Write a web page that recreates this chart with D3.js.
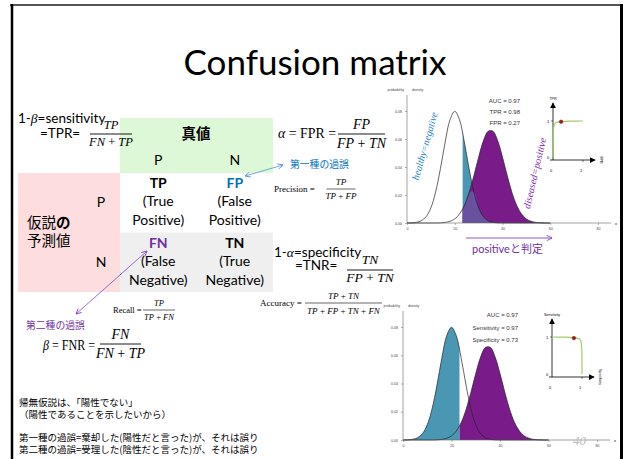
<!DOCTYPE html>
<html>
<head>
<meta charset="utf-8">
<script src="https://cdn.jsdelivr.net/npm/d3@7"></script>
<style>
  body { margin: 0; background: #fff; }
  svg { display: block; }
  text { white-space: pre; }
</style>
</head>
<body>
<script>
const width = 625, height = 459

// densidades (x = 0..60, cada 2)
const xGrid = [0, 2, 4, 6, 8, 10, 12, 14, 16, 18, 20, 22, 24, 26, 28, 30, 32, 34, 36, 38, 40, 42, 44, 46, 48, 50, 52, 54, 56, 58, 60]
const healthy = [0, 0.0001, 0.0005, 0.0016, 0.0045, 0.0108, 0.0222, 0.0388, 0.0579, 0.0737, 0.0798, 0.0737, 0.0579, 0.0388, 0.0222, 0.0108, 0.0045, 0.0016, 0.0005, 0.0001, 0, 0, 0, 0, 0, 0, 0, 0, 0, 0, 0]
const diseased = [0, 0, 0, 0, 0, 0, 0, 0.0001, 0.0004, 0.0012, 0.0029, 0.0064, 0.0124, 0.0216, 0.0337, 0.0470, 0.0587, 0.0656, 0.0656, 0.0587, 0.0470, 0.0337, 0.0216, 0.0124, 0.0064, 0.0029, 0.0012, 0.0004, 0.0001, 0, 0]
const threshold = 23.3

const xTicks = [0, 20, 40, 60, 80]
const yTicks = [0, 0.02, 0.04, 0.06, 0.08]

// curva ROC
const rocFpr = [0, 0, 0.01, 0.03, 0.07, 0.12, 0.2, 0.27, 0.4, 0.6, 0.8, 1]
const rocTpr = [0, 0.5, 0.75, 0.88, 0.94, 0.965, 0.975, 0.98, 0.99, 0.995, 1, 1]
const topPoint = [0.27, 0.98]
const botPoint = [0.73, 0.97]
const topStats = ["AUC = 0.97", "TPR = 0.98", "FPR = 0.27"]
const botStats = ["AUC = 0.97", "Sensitivity = 0.97", "Specificity = 0.73"]

// matriz
const classes = ["P", "N"]
const cellCodes = [["TP", "FP"], ["FN", "TN"]]
const cellWords = [[["(True", "Positive)"], ["(False", "Positive)"]], [["(False", "Negative)"], ["(True", "Negative)"]]]
const notes = ["帰無仮説は、「陽性でない」", "（陽性であることを示したいから）", "", "第一種の過誤=棄却した(陽性だと言った)が、それは誤り", "第二種の過誤=受理した(陰性だと言った)が、それは誤り"]

const sans = "Lato, 'Noto Sans CJK JP', sans-serif"
const jp = "'Noto Sans CJK JP', sans-serif"
const serif = "'Liberation Serif', 'DejaVu Serif', serif"
const small = "'Liberation Sans', Arial, sans-serif"

const BLUE = "#0070c0", PURPLE = "#7030a0"
const TEAL = "rgb(74,151,179)", VIOLET = "rgb(122,27,138)", MIX = "rgb(104,82,160)"

let svg = d3.select("body").append("svg").attr("width", width).attr("height", height)

let defs = svg.append("defs")
function openArrow(id, color) {
  defs.append("marker").attr("id", id).attr("viewBox", "0 0 8 8").attr("refX", 7).attr("refY", 4)
    .attr("markerWidth", 7).attr("markerHeight", 7).attr("orient", "auto-start-reverse")
    .attr("markerUnits", "userSpaceOnUse")
    .append("path").attr("d", "M1,1 L7,4 L1,7").attr("fill", "none").attr("stroke", color).attr("stroke-width", 1)
}
openArrow("arBlue", "rgb(80,150,220)")
openArrow("arPurple", "rgb(130,70,200)")
defs.append("marker").attr("id", "arBlack").attr("viewBox", "0 0 8 8").attr("refX", 7).attr("refY", 4)
  .attr("markerWidth", 6).attr("markerHeight", 6).attr("orient", "auto").attr("markerUnits", "userSpaceOnUse")
  .append("path").attr("d", "M0,0 L8,4 L0,8 Z").attr("fill", "#000")

// marco de la diapositiva
svg.append("line").attr("x1", 10).attr("x2", 622).attr("y1", 5).attr("y2", 5).attr("stroke", "#555").attr("stroke-width", 2)
svg.append("line").attr("x1", 12).attr("x2", 12).attr("y1", 4).attr("y2", height).attr("stroke", "#000").attr("stroke-width", 2.5)
svg.append("line").attr("x1", 621.5).attr("x2", 621.5).attr("y1", 4).attr("y2", height).attr("stroke", "#000").attr("stroke-width", 3)

svg.append("text").attr("x", 315).attr("y", 75).attr("text-anchor", "middle")
  .attr("font-family", sans).attr("font-size", 35).text("Confusion matrix")

// ---------- matriz de confusion ----------
let colX = d3.scaleBand().domain(classes).range([120, 273])
let rowY = d3.scaleBand().domain(classes).range([173, 292])

svg.append("rect").attr("x", 120).attr("y", 118).attr("width", 153).attr("height", 55).attr("fill", "rgb(221,248,214)")
svg.append("rect").attr("x", 18).attr("y", 173).attr("width", 102).attr("height", 119).attr("fill", "rgb(253,221,221)")
svg.append("rect").attr("x", 120).attr("y", rowY("N")).attr("width", 153).attr("height", rowY.bandwidth()).attr("fill", "#efefef")

svg.append("text").attr("x", 196).attr("y", 139).attr("text-anchor", "middle")
  .attr("font-family", jp).attr("font-weight", "bold").attr("font-size", 14.5).text("真値")

classes.forEach(function (c) {
  svg.append("text").attr("x", colX(c) + colX.bandwidth() / 2).attr("y", 165).attr("text-anchor", "middle")
    .attr("font-family", sans).attr("font-size", 14).text(c)
  svg.append("text").attr("x", 101).attr("y", rowY(c) + rowY.bandwidth() / 2 + 4.5).attr("text-anchor", "middle")
    .attr("font-family", sans).attr("font-size", 14).text(c)
})

let codeColor = { TP: "#000", FP: BLUE, FN: PURPLE, TN: "#000" }
classes.forEach(function (r, i) {
  classes.forEach(function (c, j) {
    let cx = colX(c) + colX.bandwidth() / 2
    let cy = rowY(r) + rowY.bandwidth() / 2
    svg.append("text").attr("x", cx).attr("y", cy - 14.5).attr("text-anchor", "middle")
      .attr("font-family", sans).attr("font-weight", "bold").attr("font-size", 14)
      .attr("fill", codeColor[cellCodes[i][j]]).text(cellCodes[i][j])
    cellWords[i][j].forEach(function (w, k) {
      svg.append("text").attr("x", cx).attr("y", cy + 3.5 + k * 19).attr("text-anchor", "middle")
        .attr("font-family", sans).attr("font-size", 14).text(w)
    })
  })
})

svg.append("text").attr("x", 27).attr("y", 228).attr("font-family", jp).attr("font-size", 14.5).text("仮説")
svg.append("text").attr("x", 56).attr("y", 228).attr("font-family", jp).attr("font-weight", "bold").attr("font-size", 14.5).text("の")
svg.append("text").attr("x", 27).attr("y", 246).attr("font-family", jp).attr("font-size", 14.5).text("予測値")

// ---------- formulas ----------
function mathTokens(t, str) {
  str.split(" + ").forEach(function (tok, i) {
    if (i > 0) t.append("tspan").attr("font-style", "normal").text(" + ")
    t.append("tspan").attr("font-style", "italic").text(tok)
  })
}

function frac(cx, barY, w, num, den, size, numDy, denDy) {
  svg.append("line").attr("x1", cx - w / 2).attr("x2", cx + w / 2).attr("y1", barY).attr("y2", barY)
    .attr("stroke", "#000").attr("stroke-width", size > 11 ? 0.9 : 0.6)
  let n = svg.append("text").attr("x", cx).attr("y", barY - numDy).attr("text-anchor", "middle")
    .attr("font-family", serif).attr("font-size", size)
  mathTokens(n, num)
  let d = svg.append("text").attr("x", cx).attr("y", barY + denDy).attr("text-anchor", "middle")
    .attr("font-family", serif).attr("font-size", size)
  mathTokens(d, den)
}

// lado izquierdo de una formula: letra griega + resto, con ancho fijo
function lhs(x, y, greek, rest, size, len) {
  let t = svg.append("text").attr("x", x).attr("y", y).attr("font-family", serif).attr("font-size", size)
    .attr("textLength", len).attr("lengthAdjust", "spacingAndGlyphs")
  t.append("tspan").attr("font-style", "italic").text(greek)
  t.append("tspan").text(rest)
}

// sensitivity
let s1 = svg.append("text").attr("x", 18).attr("y", 123).attr("font-family", sans).attr("font-size", 13.5)
s1.append("tspan").text("1-")
s1.append("tspan").attr("font-family", serif).attr("font-style", "italic").text("β")
s1.append("tspan").text("=sensitivity")
svg.append("text").attr("x", 40).attr("y", 138).attr("font-family", sans).attr("font-size", 13.5).text("=TPR=")
frac(111, 134, 42, "TP", "FN + TP", 12.5, 5, 11.5)

// FPR
lhs(278, 138, "α", " = FPR =", 14, 58)
frac(361.5, 134, 47, "FP", "FP + TN", 14, 5, 13.5)
svg.append("text").attr("x", 290).attr("y", 168).attr("font-family", jp).attr("font-size", 9.8)
  .attr("fill", BLUE).text("第一種の過誤")

// precision
svg.append("text").attr("x", 274).attr("y", 192).attr("font-family", serif).attr("font-size", 9).text("Precision =")
frac(341, 189, 29, "TP", "TP + FP", 9, 4, 10)

// specificity
let s2 = svg.append("text").attr("x", 274).attr("y", 257).attr("font-family", sans).attr("font-size", 13.5)
s2.append("tspan").text("1-")
s2.append("tspan").attr("font-family", serif).attr("font-style", "italic").text("α")
s2.append("tspan").text("=specificity")
svg.append("text").attr("x", 295).attr("y", 270).attr("font-family", sans).attr("font-size", 13.5).text("=TNR=")
frac(370, 270, 46, "TN", "FP + TN", 13.5, 6, 11.5)

// accuracy
svg.append("text").attr("x", 260).attr("y", 306).attr("font-family", serif).attr("font-size", 9).text("Accuracy =")
frac(343.5, 303, 77, "TP + TN", "TP + FP + TN + FN", 9, 4, 10.5)

// recall
svg.append("text").attr("x", 113).attr("y", 313).attr("font-family", serif).attr("font-size", 8.5).text("Recall =")
frac(159, 310, 32, "TP", "TP + FN", 8.5, 4, 10)

// FNR
svg.append("text").attr("x", 26).attr("y", 329).attr("font-family", jp).attr("font-size", 9.8)
  .attr("fill", PURPLE).text("第二種の過誤")
lhs(43, 350, "β", " = FNR =", 14, 52)
frac(120.5, 344, 41, "FN", "FN + TP", 14, 5, 13.5)

// flechas
svg.append("line").attr("x1", 245).attr("y1", 176).attr("x2", 283).attr("y2", 165)
  .attr("stroke", "rgb(80,150,220)").attr("stroke-width", 0.8)
  .attr("marker-start", "url(#arBlue)").attr("marker-end", "url(#arBlue)")
svg.append("line").attr("x1", 147).attr("y1", 251).attr("x2", 76).attr("y2", 314)
  .attr("stroke", "rgb(130,70,200)").attr("stroke-width", 0.8)
  .attr("marker-start", "url(#arPurple)").attr("marker-end", "url(#arPurple)")

// notas
notes.forEach(function (n, i) {
  svg.append("text").attr("x", 19).attr("y", 406 + i * 11.7).attr("font-family", jp).attr("font-size", 9.5).text(n)
})

// ---------- graficos de densidad ----------
let pts = xGrid.map(function (x, i) { return { x: x, h: healthy[i], d: diseased[i] } })

function densityChart(g, x, y, mode, id) {
  let area = function (key) {
    return d3.area().x(function (p) { return x(p.x) }).y0(y(0))
      .y1(function (p) { return y(key(p)) }).curve(d3.curveCatmullRom)
  }
  let line = function (key) {
    return d3.line().x(function (p) { return x(p.x) }).y(function (p) { return y(key(p)) }).curve(d3.curveCatmullRom)
  }
  let tx = x(threshold)
  defs.append("clipPath").attr("id", id + "R").append("rect")
    .attr("x", tx).attr("y", y(0.1)).attr("width", x(80) - tx).attr("height", y(0) - y(0.1))
  defs.append("clipPath").attr("id", id + "L").append("rect")
    .attr("x", x(0)).attr("y", y(0.1)).attr("width", tx - x(0)).attr("height", y(0) - y(0.1))

  if (mode === "top") {
    g.append("path").datum(pts).attr("d", area(function (p) { return p.h }))
      .attr("fill", TEAL).attr("clip-path", "url(#" + id + "R)")
    g.append("path").datum(pts).attr("d", area(function (p) { return p.d }))
      .attr("fill", VIOLET).attr("clip-path", "url(#" + id + "R)")
    g.append("path").datum(pts).attr("d", area(function (p) { return Math.min(p.h, p.d) }))
      .attr("fill", MIX).attr("clip-path", "url(#" + id + "R)")
  } else {
    g.append("path").datum(pts).attr("d", area(function (p) { return p.h }))
      .attr("fill", TEAL).attr("clip-path", "url(#" + id + "L)")
    g.append("path").datum(pts).attr("d", area(function (p) { return p.d }))
      .attr("fill", VIOLET).attr("clip-path", "url(#" + id + "R)")
  }
  g.append("path").datum(pts).attr("d", line(function (p) { return p.h }))
    .attr("fill", "none").attr("stroke", "#222").attr("stroke-width", 0.7)
  g.append("path").datum(pts).attr("d", line(function (p) { return p.d }))
    .attr("fill", "none").attr("stroke", "#222").attr("stroke-width", 0.7)

  // ejes
  g.append("g").attr("transform", "translate(0," + y(0) + ")")
    .call(d3.axisBottom(x).tickValues(xTicks).tickSize(2).tickPadding(2))
  g.append("g").attr("transform", "translate(" + x(0) + ",0)")
    .call(d3.axisLeft(y).tickValues(yTicks).tickFormat(d3.format(".2f")).tickSize(2).tickPadding(3))
  g.selectAll(".domain").remove()
  g.selectAll(".tick line").attr("stroke", "#666").attr("stroke-width", 0.5)
  g.selectAll(".tick text").attr("font-family", small).attr("font-size", 3.6).attr("fill", "#444")
  g.append("line").attr("x1", x(0)).attr("x2", x(80) + 13).attr("y1", y(0)).attr("y2", y(0))
    .attr("stroke", "#666").attr("stroke-width", 0.6)
  g.append("line").attr("x1", x(0)).attr("x2", x(0)).attr("y1", y(0)).attr("y2", y(0.08) - 16)
    .attr("stroke", "#666").attr("stroke-width", 0.6)
  g.append("text").attr("x", x(80) + 17).attr("y", y(0) + 1.5).attr("font-family", small).attr("font-size", 4).text("x")
  g.append("text").attr("x", x(0) - 3).attr("y", y(0.08) - 20).attr("text-anchor", "end")
    .attr("font-family", small).attr("font-size", 3.6).attr("fill", "#444").text("probability")
  g.append("text").attr("x", x(0) + 5).attr("y", y(0.08) - 20)
    .attr("font-family", small).attr("font-size", 3.6).attr("fill", "#444").text("density")
}

let xTop = d3.scaleLinear().domain([0, 80]).range([407, 598])
let yTop = d3.scaleLinear().domain([0, 0.08]).range([223, 111])
densityChart(svg.append("g"), xTop, yTop, "top", "cTop")

let xBot = d3.scaleLinear().domain([0, 80]).range([403, 597])
let yBot = d3.scaleLinear().domain([0, 0.08]).range([440, 327])
densityChart(svg.append("g"), xBot, yBot, "bottom", "cBot")

// etiquetas rotadas
svg.append("text").attr("transform", "translate(428,147) rotate(-74)").attr("text-anchor", "middle")
  .attr("font-family", serif).attr("font-style", "italic").attr("font-size", 10)
  .attr("fill", "rgb(40,130,200)").text("healthy=negative")
svg.append("text").attr("transform", "translate(538,174) rotate(-77)").attr("text-anchor", "middle")
  .attr("font-family", serif).attr("font-style", "italic").attr("font-size", 10)
  .attr("fill", "rgb(125,45,175)").text("diseased=positive")

topStats.forEach(function (s, i) {
  svg.append("text").attr("x", 520).attr("y", 103 + i * 11).attr("text-anchor", "end")
    .attr("font-family", small).attr("font-size", 6).attr("fill", "#333").text(s)
})
botStats.forEach(function (s, i) {
  svg.append("text").attr("x", 518).attr("y", 317 + i * 12.5).attr("text-anchor", "end")
    .attr("font-family", small).attr("font-size", 6).attr("fill", "#333").text(s)
})

// positiveと判定
svg.append("line").attr("x1", 466).attr("x2", 552).attr("y1", 238).attr("y2", 238)
  .attr("stroke", "rgb(130,70,200)").attr("stroke-width", 0.9).attr("marker-end", "url(#arPurple)")
svg.append("text").attr("x", 472).attr("y", 253).attr("font-family", sans).attr("font-size", 11)
  .attr("fill", PURPLE).text("positiveと判定")

// ---------- ROC ----------
function rocInset(x, y, flip, point, xLab, yLab) {
  let ox = x(0), oy = y(0) + 3
  svg.append("line").attr("x1", ox - 3).attr("x2", x(1) + 12).attr("y1", oy).attr("y2", oy)
    .attr("stroke", "#000").attr("stroke-width", 0.8).attr("marker-end", "url(#arBlack)")
  svg.append("line").attr("x1", ox).attr("x2", ox).attr("y1", oy).attr("y2", y(1) - 18)
    .attr("stroke", "#000").attr("stroke-width", 0.8).attr("marker-end", "url(#arBlack)")
  svg.append("line").attr("x1", x(1)).attr("x2", x(1)).attr("y1", oy).attr("y2", oy + 2).attr("stroke", "#000").attr("stroke-width", 0.5)
  svg.append("line").attr("x1", ox - 2).attr("x2", ox).attr("y1", y(1)).attr("y2", y(1)).attr("stroke", "#000").attr("stroke-width", 0.5)
  ;[0, 1].forEach(function (v) {
    svg.append("text").attr("x", x(v) - 2).attr("y", oy + 12).attr("text-anchor", "middle")
      .attr("font-family", small).attr("font-size", 4).text(v)
    svg.append("text").attr("x", ox - 5).attr("y", y(v) + 1.5).attr("text-anchor", "middle")
      .attr("font-family", small).attr("font-size", 4).text(v)
  })
  let curve = rocFpr.map(function (f, i) { return [flip ? 1 - f : f, rocTpr[i]] })
  svg.append("path").datum(curve)
    .attr("d", d3.line().x(function (p) { return x(p[0]) }).y(function (p) { return y(p[1]) }).curve(d3.curveBasis))
    .attr("fill", "none").attr("stroke", "rgb(160,205,105)").attr("stroke-width", 1.2)
  svg.append("circle").attr("cx", x(point[0])).attr("cy", y(point[1])).attr("r", 1.8)
    .attr("fill", "rgb(170,20,20)").attr("stroke", "#600").attr("stroke-width", 0.4)
  svg.append("text").attr("x", ox).attr("y", y(1) - 21).attr("text-anchor", "middle")
    .attr("font-family", small).attr("font-size", 3.6).text(yLab)
  svg.append("text").attr("transform", "translate(" + (x(1) + 17) + "," + oy + ") rotate(90)")
    .attr("text-anchor", "middle").attr("font-family", small).attr("font-size", 3.6).text(xLab)
}

rocInset(d3.scaleLinear().domain([0, 1]).range([553, 583]), d3.scaleLinear().domain([0, 1]).range([157, 121]), false, topPoint, "FPR", "TPR")
rocInset(d3.scaleLinear().domain([0, 1]).range([552, 582]), d3.scaleLinear().domain([0, 1]).range([374, 337]), true, botPoint, "Specificity", "Sensitivity")

// numero de pagina
svg.append("text").attr("x", 573).attr("y", 445).attr("font-family", serif).attr("font-style", "italic")
  .attr("font-size", 13).attr("fill", "#bbb").text("40")
</script>
